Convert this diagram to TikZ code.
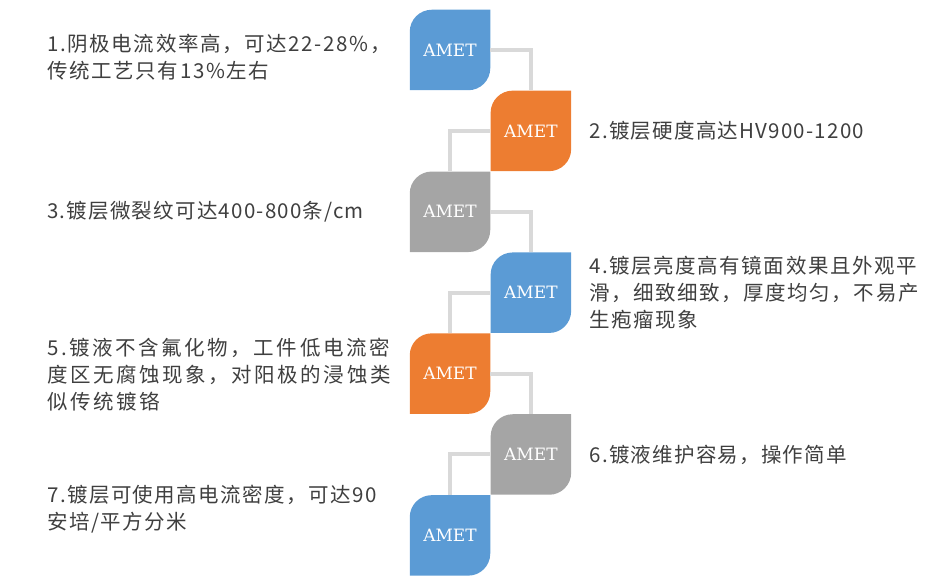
\documentclass[tikz,border=0pt]{standalone}
\usepackage{fontspec}
\setmainfont{Noto Sans CJK SC}
\newfontfamily\ametfont{DejaVu Serif}
\usetikzlibrary{positioning}
\definecolor{ametblue}{HTML}{5B9BD5}
\definecolor{ametorange}{HTML}{ED7D31}
\definecolor{ametgray}{HTML}{A5A5A5}
\definecolor{linkgray}{HTML}{D9D9D9}
\definecolor{textgray}{HTML}{3F3F3F}
\tikzset{
  leaf/.style={minimum width=80.5pt, minimum height=80.5pt, inner sep=0pt, text=white, font=\ametfont\fontsize{17}{17}\selectfont,
    path picture={\fill[#1] (path picture bounding box.north east) -- ([yshift=22pt]path picture bounding box.south east)
      arc[start angle=0, end angle=-90, radius=22pt] -- (path picture bounding box.south west)
      -- ([yshift=-22pt]path picture bounding box.north west) arc[start angle=180, end angle=90, radius=22pt] -- cycle;}},
  link/.style={draw=linkgray, line width=4pt},
  desc/.style={anchor=west, align=left, inner sep=0pt, text=textgray, font=\fontsize{20.5}{27}\selectfont\addfontfeature{LetterSpace=6}},
  widedesc/.style={desc, font=\fontsize{20.5}{27}\selectfont\addfontfeature{LetterSpace=#1}}
}
\begin{document}
\begin{tikzpicture}[x=1pt, y=1pt]
  \useasboundingbox (0,0) rectangle (931,586);
  \node[leaf=ametblue] (b1) at (450,536) {AMET};
  \node[leaf=ametorange, below right=0pt and 0pt of b1] (b2) {AMET};
  \node[leaf=ametgray, below left=0pt and 0pt of b2] (b3) {AMET};
  \node[leaf=ametblue, below right=0pt and 0pt of b3] (b4) {AMET};
  \node[leaf=ametorange, below left=0pt and 0pt of b4] (b5) {AMET};
  \node[leaf=ametgray, below right=0pt and 0pt of b5] (b6) {AMET};
  \node[leaf=ametblue, below left=0pt and 0pt of b6] (b7) {AMET};
  % connectors
  \draw[link] (b1.east) -| (b2.north);
  \draw[link] (b2.west) -| (b3.north);
  \draw[link] (b3.east) -| (b4.north);
  \draw[link] (b4.west) -| (b5.north);
  \draw[link] (b5.east) -| (b6.north);
  \draw[link] (b6.west) -| (b7.north);
  % descriptions
  \node[widedesc=8, yshift=-7.5pt] (t1) at (47,0 |- b1) {1.阴极电流效率高，可达22-28\%，\\传统工艺只有13\%左右};
  \node[desc, right=18pt of b2] (t2) {2.镀层硬度高达HV900-1200};
  \node[desc] (t3) at (47,0 |- b3) {3.镀层微裂纹可达400-800条/cm};
  \node[widedesc=7.5, right=18pt of b4] (t4) {4.镀层亮度高有镜面效果且外观平\\滑，细致细致，厚度均匀，不易产\\生疱瘤现象};
  \node[widedesc=12.5, yshift=-1pt] (t5) at (47,0 |- b5) {5.镀液不含氟化物，工件低电流密\\度区无腐蚀现象，对阳极的浸蚀类\\似传统镀铬};
  \node[desc, right=18pt of b6] (t6) {6.镀液维护容易，操作简单};
  \node[widedesc=7, yshift=26pt] (t7) at (47,0 |- b7) {7.镀层可使用高电流密度，可达90\\安培/平方分米};
\end{tikzpicture}
\end{document}
